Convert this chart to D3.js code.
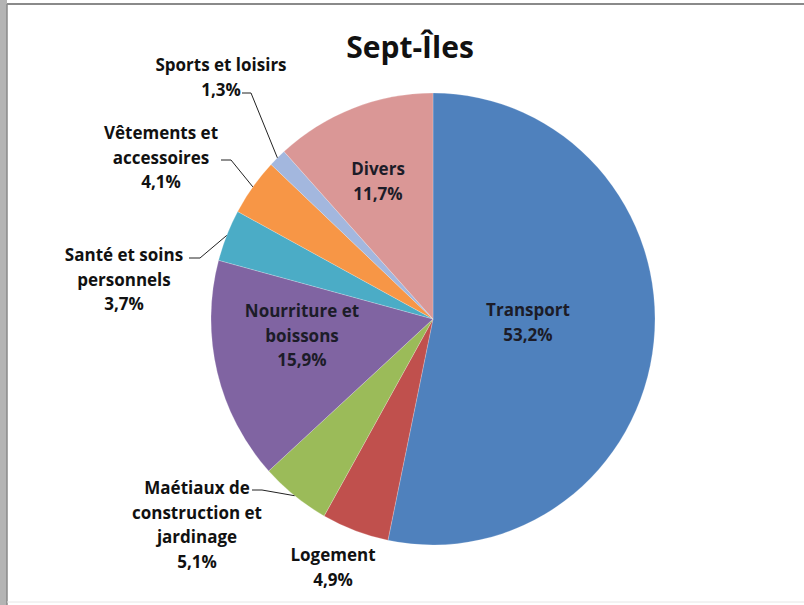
<!DOCTYPE html>
<html><head><meta charset="utf-8">
<script src="https://cdn.jsdelivr.net/npm/d3@7"></script>
<style>body{margin:0;background:#fff}svg{display:block}</style>
</head><body>
<svg id="c" width="804" height="605"></svg>
<script>
const categories = ["Transport","Logement","Maétiaux de construction et jardinage","Nourriture et boissons","Santé et soins personnels","Vêtements et accessoires","Sports et loisirs","Divers"];
const values = [53.2, 4.9, 5.1, 15.9, 3.7, 4.1, 1.3, 11.7];
const valueLabels = ["53,2%","4,9%","5,1%","15,9%","3,7%","4,1%","1,3%","11,7%"];
const labelLines = [["Transport"],["Logement"],["Maétiaux de","construction et","jardinage"],["Nourriture et","boissons"],["Santé et soins","personnels"],["Vêtements et","accessoires"],["Sports et loisirs"],["Divers"]];
const colors = ["#4F81BD","#C0504D","#9BBB59","#8064A2","#4BACC6","#F79646","#A3B7DE","#DA9796"];
const title = "Sept-Îles";

const FONT = "'Open Sans', Lato, sans-serif";
const svg = d3.select("#c");
// frame
svg.append("rect").attr("x",0).attr("y",0).attr("width",7).attr("height",605).attr("fill","#b4b4b4");
svg.append("line").attr("x1",7).attr("x2",7).attr("y1",4).attr("y2",605).attr("stroke","#8a8a8a").attr("stroke-width",1.5);
svg.append("line").attr("x1",7).attr("x2",804).attr("y1",4).attr("y2",4).attr("stroke","#8a8a8a").attr("stroke-width",2);
svg.append("line").attr("x1",7).attr("x2",804).attr("y1",602).attr("y2",602).attr("stroke","#e6e6e6").attr("stroke-width",1);

svg.append("text").attr("x",410).attr("y",58).attr("text-anchor","middle")
  .attr("font-family",FONT).attr("font-weight","bold").attr("font-size",30)
  .attr("fill","#111").text(title);

const cx = 433, cy = 319, r = 222, sy = 226/222;
const pie = d3.pie().sort(null).value(d=>d).startAngle(0).endAngle(2*Math.PI);
const arcs = pie(values);
const arc = d3.arc().innerRadius(0).outerRadius(r);
const g = svg.append("g").attr("transform",`translate(${cx},${cy}) scale(1,${sy})`);
g.selectAll("path").data(arcs).join("path").attr("d",arc)
  .attr("fill",(d,i)=>colors[i]).attr("stroke","#fff").attr("stroke-opacity",0.35).attr("stroke-width",0.6);

function edgePt(d){ const a=(d.startAngle+d.endAngle)/2; return [cx + r*Math.sin(a), cy - r*sy*Math.cos(a)]; }

const layout = [
  {x:528, y:310, inside:true},
  {x:333, y:555, inside:false},
  {x:197, y:488, inside:false, lead:[252,262,490]},
  {x:302, y:311, inside:true},
  {x:124, y:255, inside:false, lead:[189,200,258]},
  {x:161, y:133, inside:false, lead:[221,231,160]},
  {x:221, y:65, inside:false, lead:[242,251,93]},
  {x:378, y:169, inside:true}
];
const lh = 24.5;
arcs.forEach((d,i)=>{
  const L = layout[i];
  const lines = labelLines[i].concat([valueLabels[i]]);
  const t = svg.append("text").attr("text-anchor","middle")
    .attr("font-family",FONT).attr("font-weight","bold").attr("font-size",17)
    .attr("fill", L.inside ? "#1c1c28" : "#111");
  lines.forEach((s,k)=>{
    t.append("tspan").attr("x",L.x).attr("y",L.y + k*lh + 6).text(s);
  });
  if (L.lead){
    const p = edgePt(d);
    svg.append("path").attr("d",`M${L.lead[0]},${L.lead[2]}L${L.lead[1]},${L.lead[2]}L${p[0]},${p[1]}`)
      .attr("fill","none").attr("stroke","#222").attr("stroke-width",1);
  }
});
</script>
</body></html>
